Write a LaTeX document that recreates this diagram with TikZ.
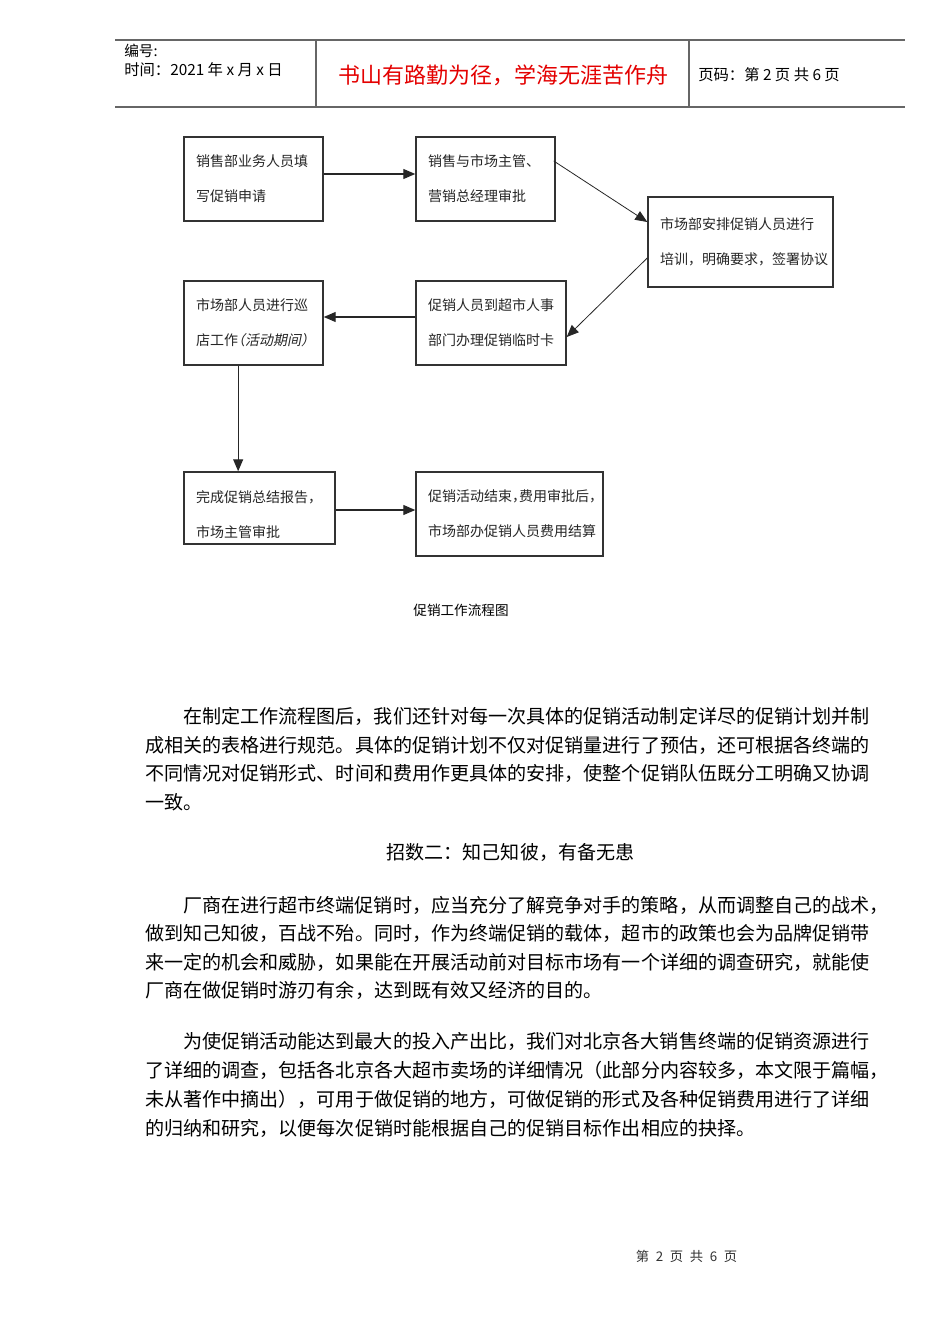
\documentclass[tikz,border=0pt]{standalone}
\usepackage{fontspec}
\usepackage{xcolor}
\usepackage{tikz}
\usetikzlibrary{arrows.meta}
\usetikzlibrary{calc}
\setmainfont{Noto Sans CJK SC}
\newfontfamily\cjkit[FakeSlant=0.2,RawFeature=+halt]{Noto Sans CJK SC}
\newfontfamily\cjkhalt[RawFeature=+halt]{Noto Sans CJK SC}
\definecolor{rulegray}{gray}{0.4}
\definecolor{mottored}{RGB}{228,0,0}
\newcommand{\hcomma}{{\cjkhalt ，}}

\begin{document}
\begin{tikzpicture}[x=0.75pt,y=-0.75pt,
    stepbox/.style={draw=black!80,line width=1.1pt,align=left,text=black!85,
        inner xsep=9pt,inner ysep=0pt,minimum height=63pt,
        font=\fontsize{10.5}{26.25}\selectfont},
    flow/.style={-{Triangle[length=9pt,width=7.5pt]},line width=0.8pt,black!85},
    bodyline/.style={anchor=west,inner sep=0pt,font=\fontsize{14.3}{17}\selectfont}]
        \fill[white] (0,0) rectangle (950,1344);
        \useasboundingbox (0,0) rectangle (950,1344);

        %%% Header %%%
        \draw[rulegray,line width=1.2pt] (115,40)--(905,40);
        \draw[rulegray,line width=1.2pt] (115,107)--(905,107);
        \draw[rulegray,line width=1pt] (316,40)--(316,107);
        \draw[rulegray,line width=1pt] (689,40)--(689,107);
        \node[anchor=west,inner sep=0pt,font=\fontsize{11}{12}\selectfont] (num) at (124,51) {编号:};
        \node[anchor=west,inner sep=0pt,font=\fontsize{11.5}{13}\selectfont] (date) at (124,70) {时间：2021 年 x 月 x 日};
        \node[mottored,font=\fontsize{16.5}{20}\selectfont] (motto) at (503,75) {书山有路勤为径，学海无涯苦作舟};
        \node[anchor=west,inner sep=0pt,font=\fontsize{11.5}{13}\selectfont] (page) at (698,75) {页码：第 2 页 共 6 页};

        %%% Flow chart %%%
        \node[stepbox,text width=86.25pt] (apply) at (253.5,179) {销售部业务人员填\\写促销申请};
        \node[stepbox,text width=86.25pt] (review) at (485.5,179) {销售与市场主管、\\营销总经理审批};
        \node[stepbox,text width=120.75pt,minimum height=67.5pt] (train) at (740.5,242) {市场部安排促销人员进行\\培训，明确要求，签署协议};
        \node[stepbox,text width=94.5pt] (card) at (491,323) {促销人员到超市人事\\部门办理促销临时卡};
        \node[stepbox,text width=86.25pt] (patrol) at (253.5,323) {市场部人员进行巡\\店工作{\cjkit （活动期间）}};
        \node[stepbox,text width=95.25pt,minimum height=54pt] (report) at (259.5,508) {\rule{0pt}{19.5pt}完成促销总结报告，\\市场主管审批};
        \node[stepbox,text width=122.25pt] (settle) at (509.5,514) {促销活动结束\hcomma 费用审批后\hcomma\\市场部办促销人员费用结算};

        \draw[flow] ([yshift=3.75pt]apply.east)--([yshift=3.75pt]review.west);
        \draw[flow,line width=0.6pt] ([xshift=-1.5pt,yshift=13.5pt]review.east)--([yshift=15pt]train.west);
        \draw[flow,line width=0.6pt] ([yshift=-12pt]train.west)--([yshift=-10.5pt]card.east);
        \draw[flow] ([yshift=4.5pt]card.west)--([yshift=4.5pt]patrol.east);
        \draw[flow] ([xshift=-11.5pt]patrol.south)--([xshift=-16pt]report.north);
        \draw[flow] ([yshift=-1.5pt]report.east)--([yshift=-1.5pt]report.east -| settle.west);

        \node[font=\fontsize{10.2}{12}\selectfont] (caption) at (461,610) {促销工作流程图};

        %%% Text %%%
        \node[bodyline] (p1a) at (183,716) {在制定工作流程图后，我们还针对每一次具体的促销活动制定详尽的促销计划并制};
        \node[bodyline] (p1b) at (145,745) {成相关的表格进行规范。具体的促销计划不仅对促销量进行了预估，还可根据各终端的};
        \node[bodyline] (p1c) at (145,773) {不同情况对促销形式、时间和费用作更具体的安排，使整个促销队伍既分工明确又协调};
        \node[bodyline] (p1d) at (145,802) {一致。};

        \node[font=\fontsize{14.3}{17}\selectfont] (title) at (510.5,852) {招数二：知己知彼，有备无患};

        \node[bodyline] (p2a) at (183,905) {厂商在进行超市终端促销时，应当充分了解竞争对手的策略，从而调整自己的战术，};
        \node[bodyline] (p2b) at (145,933) {做到知己知彼，百战不殆。同时，作为终端促销的载体，超市的政策也会为品牌促销带};
        \node[bodyline] (p2c) at (145,962) {来一定的机会和威胁，如果能在开展活动前对目标市场有一个详细的调查研究，就能使};
        \node[bodyline] (p2d) at (145,990) {厂商在做促销时游刃有余，达到既有效又经济的目的。};

        \node[bodyline] (p3a) at (183,1041) {为使促销活动能达到最大的投入产出比，我们对北京各大销售终端的促销资源进行};
        \node[bodyline] (p3b) at (145,1070) {了详细的调查，包括各北京各大超市卖场的详细情况（此部分内容较多，本文限于篇幅，};
        \node[bodyline] (p3c) at (145,1099) {未从著作中摘出），可用于做促销的地方，可做促销的形式及各种促销费用进行了详细};
        \node[bodyline] (p3d) at (145,1128) {的归纳和研究，以便每次促销时能根据自己的促销目标作出相应的抉择。};

        %%% Footer %%%
        \node[black!80,font=\fontsize{10}{11}\selectfont] (foot) at (686.5,1256) {第\enspace 2\enspace 页\enspace 共\enspace 6\enspace 页};
    \end{tikzpicture}
\end{document}
